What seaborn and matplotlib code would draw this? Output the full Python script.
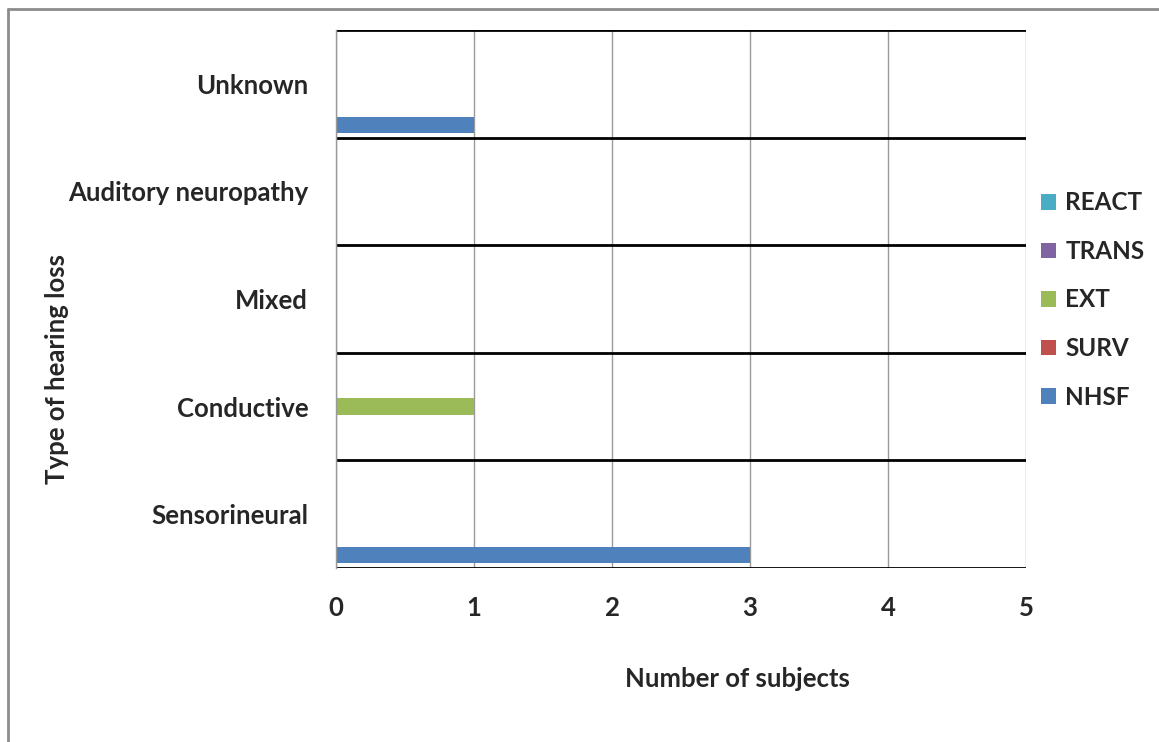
import matplotlib
matplotlib.use("Agg")
import matplotlib.pyplot as plt
from matplotlib.lines import Line2D
from matplotlib.patches import Patch
from matplotlib.ticker import FixedLocator
import pandas as pd
import seaborn as sns

# Categories listed top to bottom
categories = ["Unknown", "Auditory neuropathy", "Mixed", "Conductive", "Sensorineural"]
# Study groups (legend order, top to bottom)
groups = ["REACT", "TRANS", "EXT", "SURV", "NHSF"]
group_colors = ["#4BACC6", "#8064A2", "#9BBB59", "#C0504D", "#4F81BD"]

# Number of subjects per category for each group
nhsf = [1, 0, 0, 0, 3]
surv = [0, 0, 0, 0, 0]
ext = [0, 0, 0, 1, 0]
trans = [0, 0, 0, 0, 0]
react = [0, 0, 0, 0, 0]

x_ticks = [0, 1, 2, 3, 4, 5]

values = {"NHSF": nhsf, "SURV": surv, "EXT": ext, "TRANS": trans, "REACT": react}
rows = []
for g, vals in values.items():
    for c, v in zip(categories, vals):
        rows.append({"Type": c, "Group": g, "Count": v})
df = pd.DataFrame(rows)

sns.set_style("white")
plt.rcParams["font.family"] = ["Lato", "DejaVu Sans"]
plt.rcParams["font.weight"] = "bold"

FS = 18.5

fig = plt.figure(figsize=(11.59, 7.42), dpi=100)
ax = fig.add_axes([336 / 1159, 1 - 568 / 742, 690 / 1159, 538 / 742])

sns.barplot(
    data=df, x="Count", y="Type", hue="Group",
    order=categories, hue_order=groups,
    palette=dict(zip(groups, group_colors)), saturation=1,
    orient="h", width=0.95, gap=0.2, errorbar=None,
    ax=ax, legend=False, linewidth=0,
)

ax.set_xlim(0, 5)
ax.set_ylim(len(categories) - 0.5, -0.5)
ax.set_xticks(x_ticks)
ax.set_xticklabels([str(t) for t in x_ticks], fontsize=FS, fontweight="bold")
ax.set_yticks(range(len(categories)))
ax.set_yticklabels(categories, fontsize=FS, fontweight="bold")
ax.tick_params(axis="both", length=0)
ax.tick_params(axis="y", pad=20)
ax.tick_params(axis="x", pad=20)

# vertical value gridlines
ax.grid(axis="x", which="major", color="#9A9A9A", linewidth=1.0)
# black separators between categories
ax.yaxis.set_minor_locator(FixedLocator([i - 0.5 for i in range(len(categories) + 1)]))
ax.grid(axis="y", which="minor", color="black", linewidth=2.0)
ax.grid(axis="y", which="major", visible=False)
ax.set_axisbelow(True)

for side in ["top", "bottom", "right"]:
    ax.spines[side].set_visible(False)
ax.spines["left"].set_color("#9A9A9A")
ax.spines["left"].set_linewidth(1.0)

ax.set_xlabel("Number of subjects", fontsize=FS, fontweight="bold")
ax.xaxis.label.set_va("center")
ax.xaxis.set_label_coords((737 - 336) / 690, (568 - 679) / 538)
ax.set_ylabel("Type of hearing loss", fontsize=FS, fontweight="bold")
ax.yaxis.label.set_va("center")
ax.yaxis.set_label_coords((57 - 336) / 690, (568 - 369) / 538)

handles = [Patch(facecolor=c, edgecolor="none") for c in group_colors]
fig.legend(
    handles, groups, loc="center left",
    bbox_to_anchor=(1041 / 1159, 1 - 300 / 742),
    frameon=False, prop={"size": 17.5, "weight": "bold"},
    handlelength=0.6, handleheight=0.6, handletextpad=0.4,
    labelspacing=1.05, borderaxespad=0, borderpad=0,
)

# outer chart frame (top and left edges)
fig.add_artist(Line2D([8 / 1159, 1.0], [1 - 9 / 742, 1 - 9 / 742],
                      transform=fig.transFigure, color="#8C8C8C", linewidth=2))
fig.add_artist(Line2D([8 / 1159, 8 / 1159], [1 - 9 / 742, 0.0],
                      transform=fig.transFigure, color="#8C8C8C", linewidth=2))

fig.savefig("out.png", dpi=100, facecolor="white")
